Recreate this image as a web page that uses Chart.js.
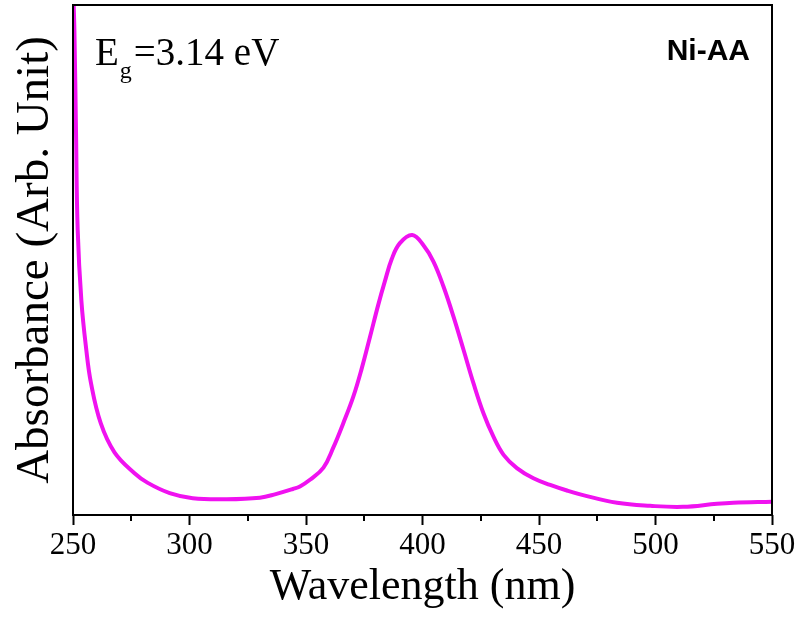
<!DOCTYPE html>
<html>
<head>
    <title>Absorbance Ni-AA</title>
    <script src="https://cdn.jsdelivr.net/npm/chart.js"></script>
    <style>
        html, body { margin: 0; padding: 0; background: #fff; }
        #chart-container { width: 799px; height: 617px; }
    </style>
</head>
<body>
    <div id="chart-container">
        <canvas id="abs-chart"></canvas>
    </div>

    <script>
        // datos (longitud de onda en nm, absorbancia arbitraria)
        var longitudes = [250, 250.6, 251.3, 252.0, 253.6, 255.7, 257.7, 261.9, 267.8, 276.4,
            282.1, 291.5, 301.4, 315.9, 330.2, 337, 344.4, 347.4, 351.7, 357.5,
            361.7, 366.0, 370.3, 373.9, 377.4, 381.0, 383.9, 386.8, 390.3, 395.6,
            400.4, 404.7, 409.0, 413.3, 417.6, 421.9, 426.2, 430.4, 434.8, 440.5,
            447.6, 454.8, 462, 468.9, 483.5, 497.7, 511.8, 526.4, 533.4, 550];
        var absorbancia = [1.04, 0.95, 0.749, 0.56, 0.42, 0.324, 0.259, 0.18, 0.123, 0.082,
            0.063, 0.043, 0.033, 0.031, 0.034, 0.041, 0.051, 0.056, 0.069, 0.093,
            0.132, 0.180, 0.232, 0.287, 0.348, 0.412, 0.459, 0.502, 0.533, 0.549,
            0.529, 0.497, 0.448, 0.389, 0.324, 0.258, 0.199, 0.154, 0.118, 0.092,
            0.072, 0.059, 0.048, 0.039, 0.024, 0.018, 0.016, 0.022, 0.024, 0.026];
        var ticksX = [250, 300, 350, 400, 450, 500, 550];
        var etiquetaMuestra = 'Ni-AA';
        var bandaProhibida = '=3.14 eV';

        var puntos = longitudes.map(function (x, i) {
            return { x: x, y: absorbancia[i] };
        });

        // marco, ticks menores y textos
        var marcoPlugin = {
            id: 'marco',
            afterDraw: function (chart) {
                var ctx = chart.ctx;
                var a = chart.chartArea;
                var sx = chart.scales.x;
                ctx.save();
                ctx.strokeStyle = '#000';
                ctx.lineWidth = 2;
                ctx.strokeRect(a.left, a.top, a.right - a.left, a.bottom - a.top);

                // ticks menores
                ctx.beginPath();
                for (var i = 0; i < ticksX.length - 1; i++) {
                    var px = Math.round(sx.getPixelForValue((ticksX[i] + ticksX[i + 1]) / 2));
                    ctx.moveTo(px, a.bottom);
                    ctx.lineTo(px, a.bottom + 6);
                }
                ctx.stroke();

                ctx.fillStyle = '#000';
                ctx.textBaseline = 'alphabetic';
                ctx.font = '39px "Liberation Serif"';
                ctx.textAlign = 'left';
                var x0 = a.left + 22;
                ctx.fillText('E', x0, a.top + 60);
                var wE = ctx.measureText('E').width;
                ctx.font = '24px "Liberation Serif"';
                ctx.fillText('g', x0 + wE + 1, a.top + 73);
                var wg = ctx.measureText('g').width;
                ctx.font = '39px "Liberation Serif"';
                ctx.fillText(bandaProhibida, x0 + wE + wg + 3, a.top + 60);

                ctx.font = 'bold 30px "Liberation Sans"';
                ctx.textAlign = 'right';
                ctx.fillText(etiquetaMuestra, a.right - 22, a.top + 55);
                ctx.restore();
            }
        };

        var ctx = document.getElementById('abs-chart').getContext('2d');
        var chart = new Chart(ctx, {
            type: 'line',
            data: {
                datasets: [{
                    label: 'Ni-AA',
                    data: puntos,
                    fill: false,
                    borderColor: '#f012f0',
                    borderWidth: 4,
                    pointRadius: 0,
                    tension: 0.4
                }]
            },
            options: {
                responsive: true,
                maintainAspectRatio: false,
                animation: false,
                layout: { padding: { top: 5, right: 27, left: 0, bottom: 0 } },
                plugins: {
                    legend: { display: false },
                    tooltip: { enabled: false }
                },
                scales: {
                    x: {
                        type: 'linear',
                        position: 'bottom',
                        min: 250,
                        max: 550,
                        afterFit: function (s) { s.height = 102; },
                        afterBuildTicks: function (s) {
                            s.ticks = ticksX.map(function (v) { return { value: v }; });
                        },
                        ticks: {
                            color: '#000',
                            padding: 2,
                            maxRotation: 0,
                            font: { family: '"Liberation Serif"', size: 31 }
                        },
                        grid: {
                            drawOnChartArea: false,
                            drawTicks: true,
                            tickLength: 10,
                            tickWidth: 2,
                            tickColor: '#000'
                        },
                        border: { display: false },
                        title: {
                            display: true,
                            text: 'Wavelength (nm)',
                            color: '#000',
                            font: { family: '"Liberation Serif"', size: 44 },
                            padding: { top: 0, bottom: 3 }
                        }
                    },
                    y: {
                        type: 'linear',
                        min: 0,
                        max: 1,
                        afterFit: function (s) { s.width = 73; },
                        ticks: { display: false },
                        grid: { display: false },
                        border: { display: false },
                        title: {
                            display: true,
                            text: 'Absorbance (Arb. Unit)',
                            color: '#000',
                            font: { family: '"Liberation Serif"', size: 47 },
                            padding: { top: 7, bottom: 0 }
                        }
                    }
                }
            },
            plugins: [marcoPlugin]
        });
    </script>
</body>
</html>
